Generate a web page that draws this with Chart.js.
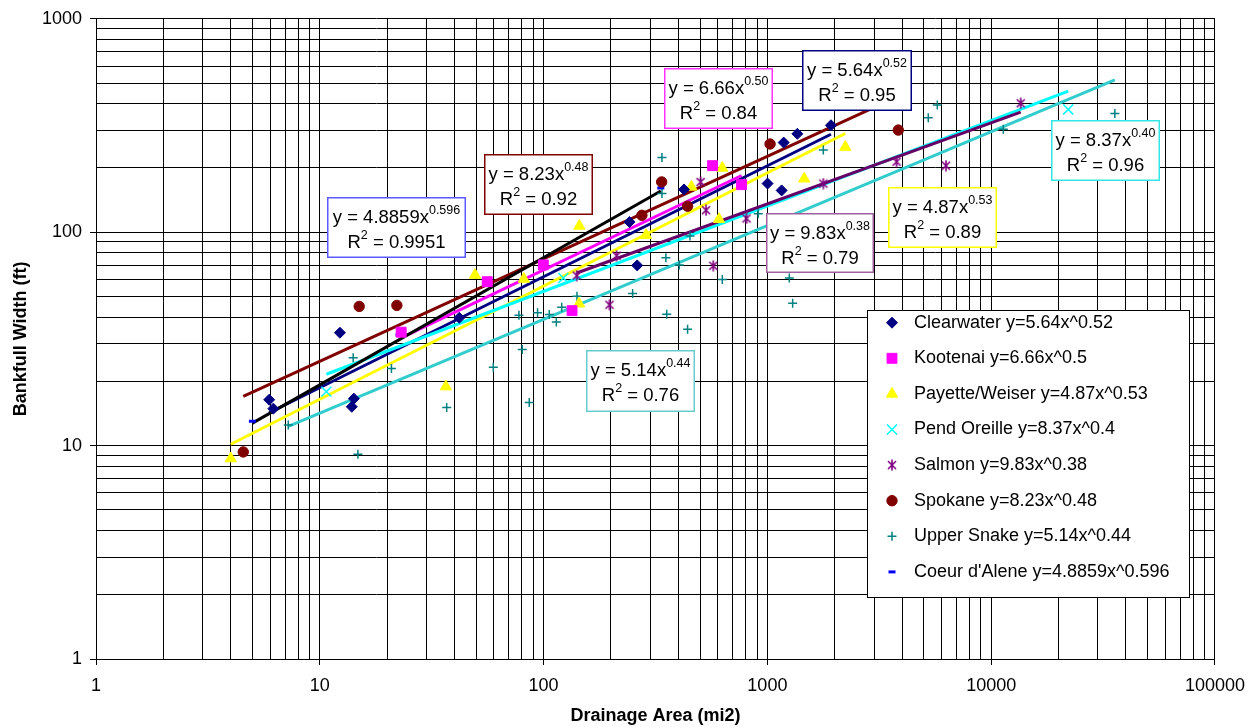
<!DOCTYPE html>
<html>
<head>
<meta charset="utf-8">
<style>
html,body{margin:0;padding:0;background:#fff;}
#wrap{width:1255px;height:728px;position:relative;}
</style>
<script src="https://cdn.jsdelivr.net/npm/chart.js"></script>
</head>
<body>
<div id="wrap"><canvas id="c" width="1255" height="728"></canvas></div>
<script>
// ---------------- DATA ----------------
const seriesNames = ['Clearwater', 'Kootenai', 'Payette/Weiser', 'Pend Oreille', 'Salmon', 'Spokane', 'Upper Snake', "Coeur d'Alene"];
const legendEquations = ['y=5.64x^0.52', 'y=6.66x^0.5', 'y=4.87x^0.53', 'y=8.37x^0.4', 'y=9.83x^0.38', 'y=8.23x^0.48', 'y=5.14x^0.44', 'y=4.8859x^0.596'];

const clearwaterArea  = [5.94, 6.2, 12.3, 13.9, 14.2, 42, 242, 262, 424, 1002, 1158, 1183, 1361, 1924];
const clearwaterWidth = [16.4, 14.9, 33.8, 15.2, 16.6, 39.7, 111.6, 69.9, 158.6, 169, 157, 263, 289, 317];

const kootenaiArea  = [23.1, 56, 99.7, 134, 569, 767];
const kootenaiWidth = [34, 58.6, 70.3, 42.9, 205, 167];

const payetteArea  = [4.0, 36.6, 49.4, 81.6, 144, 144.5, 287, 458, 608, 629, 1461, 2229];
const payetteWidth = [8.7, 18.9, 63, 60.4, 46.2, 107, 96.8, 163, 115, 200, 178, 250.6];

const pendOreilleArea  = [10.7, 122.5, 22100];
const pendOreilleWidth = [17.9, 61, 376];

const salmonArea  = [140.6, 197, 212, 503, 532, 573, 807, 1778, 3780, 6280, 13550];
const salmonWidth = [62.6, 45.7, 77.6, 172, 126.8, 69.6, 116, 169, 214, 205, 402];

const spokaneArea  = [4.55, 15.0, 22.1, 275, 337, 440, 1028, 3846];
const spokaneWidth = [9.34, 44.9, 45.4, 120, 172, 132.4, 259, 301];

const upperSnakeArea  = [7.23, 14.1, 14.8, 20.9, 36.9, 59.6, 77.6, 80.3, 86.3, 94, 106, 114, 120.5, 141, 250, 338, 338, 352, 355, 404, 440, 451, 629, 910, 1253, 1297, 1778, 5236, 5745, 11330, 35700];
const upperSnakeWidth = [12.5, 25.8, 9.1, 23, 15.1, 23.3, 40.8, 28.2, 15.9, 41.9, 41.2, 37.9, 44.5, 50.1, 51.6, 224, 152, 75.9, 41.3, 70.2, 35.1, 96, 60.1, 122, 61, 46.5, 243, 344, 395, 304, 360];

const coeurArea  = [5.0, 22.6, 334];
const coeurWidth = [13.0, 33, 161];

// trend line end points (start, end)
const trendArea  = [[5.94, 1924], [23.1, 767], [4.0, 2229], [10.7, 22100], [140.6, 13550], [4.55, 3846], [7.23, 35700], [5.0, 334]];
const trendWidth = [[14.25, 287.8], [32.0, 184.4], [10.15, 290], [21.6, 458], [64.4, 365.4], [17.0, 433], [12.3, 518], [12.75, 156]];

// equation labels
const eqBase = ['y = 5.64x', 'y = 6.66x', 'y = 4.87x', 'y = 8.37x', 'y = 9.83x', 'y = 8.23x', 'y = 5.14x', 'y = 4.8859x'];
const eqExp  = ['0.52', '0.50', '0.53', '0.40', '0.38', '0.48', '0.44', '0.596'];
const eqR2   = ['0.95', '0.84', '0.89', '0.96', '0.79', '0.92', '0.76', '0.9951'];

// axis ticks
const xMajorTicks = [1, 10, 100, 1000, 10000, 100000];
const yMajorTicks = [1, 10, 100, 1000];
const minorSteps = [1, 2, 3, 4, 5, 6, 7, 8, 9];

// ---------------- STYLE / LAYOUT ----------------
const FONT = '"Liberation Sans", Arial, Helvetica, sans-serif';
const seriesArea  = [clearwaterArea, kootenaiArea, payetteArea, pendOreilleArea, salmonArea, spokaneArea, upperSnakeArea, coeurArea];
const seriesWidth = [clearwaterWidth, kootenaiWidth, payetteWidth, pendOreilleWidth, salmonWidth, spokaneWidth, upperSnakeWidth, coeurWidth];

function starMarker(color) {
  const c = document.createElement('canvas');
  c.width = 12; c.height = 12;
  const g = c.getContext('2d');
  g.strokeStyle = color; g.lineWidth = 1.6; g.lineCap = 'butt';
  g.beginPath();
  g.moveTo(2, 2); g.lineTo(10, 10);
  g.moveTo(10, 2); g.lineTo(2, 10);
  g.moveTo(6, 0.5); g.lineTo(6, 11.5);
  g.stroke();
  return c;
}

const markerStyles = [
  {pointStyle: 'rectRot', radius: 5.5, fill: '#000080', stroke: '#000080', bw: 1},
  {pointStyle: 'rect', radius: 7, fill: '#ff00ff', stroke: '#ff00ff', bw: 1},
  {pointStyle: 'triangle', radius: 6.5, fill: '#ffff00', stroke: '#ffff00', bw: 1},
  {pointStyle: 'crossRot', radius: 7, fill: '#00ffff', stroke: '#00ffff', bw: 1.5},
  {pointStyle: starMarker('#800080'), radius: 6, fill: '#800080', stroke: '#800080', bw: 1},
  {pointStyle: 'circle', radius: 5.2, fill: '#800000', stroke: '#800000', bw: 1},
  {pointStyle: 'cross', radius: 4.5, fill: '#008080', stroke: '#008080', bw: 1.5},
  {pointStyle: 'line', radius: 3.5, fill: '#0000ff', stroke: '#0000ff', bw: 3}
];
const trendColors = ['#000080', '#ff00ff', '#ffff00', '#00ffff', '#660066', '#800000', '#33cccc', '#000000'];
const eqBorderColors = ['#000080', '#ff33ff', '#ffff00', '#33e6e6', '#a060a0', '#800000', '#66cccc', '#5a5aff'];
// pixel rectangles [left, top, right, bottom] of the equation boxes
const eqBoxPos = [
  [802, 50, 912, 111],
  [664, 68, 773, 129],
  [888, 187, 997, 248],
  [1051, 120, 1160, 181],
  [766, 213, 874, 273],
  [484, 154, 593, 215],
  [586, 350, 695, 412],
  [327, 197, 466, 258]
];
const legendBox = {left: 867, top: 310, right: 1190, bottom: 598, markerX: 892, textX: 914, firstY: 322.7, step: 35.6};

// ---------------- HELPERS ----------------
const isMajor = v => { const l = Math.log10(v); return Math.abs(l - Math.round(l)) < 1e-9; };
function logTicks(majors) {
  const t = [];
  for (let i = 0; i < majors.length - 1; i++) for (const m of minorSteps) t.push(majors[i] * m);
  t.push(majors[majors.length - 1]);
  return t;
}

// ---------------- DATASETS ----------------
const datasets = [];
seriesNames.forEach((name, i) => {
  const s = markerStyles[i];
  datasets.push({
    label: name + ' ' + legendEquations[i],
    data: seriesArea[i].map((x, j) => ({x: x, y: seriesWidth[i][j]})),
    showLine: false,
    pointStyle: s.pointStyle,
    pointRadius: s.radius,
    pointHoverRadius: s.radius,
    pointBackgroundColor: s.fill,
    pointBorderColor: s.stroke,
    pointBorderWidth: s.bw,
    order: 0
  });
});
seriesNames.forEach((name, i) => {
  datasets.push({
    label: name + ' trend',
    data: trendArea[i].map((x, j) => ({x: x, y: trendWidth[i][j]})),
    showLine: true,
    borderColor: trendColors[i],
    borderWidth: 3,
    pointRadius: 0,
    pointHoverRadius: 0,
    fill: false,
    order: 8 - i
  });
});

// ---------------- PLUGINS ----------------
const eqPlugin = {
  id: 'eqBoxes',
  afterDatasetsDraw(chart) {
    const ctx = chart.ctx;
    const mainF = '18.5px ' + FONT, supF = '12.5px ' + FONT;
    eqBase.forEach((base, i) => {
      const [l, t, r, b] = eqBoxPos[i];
      ctx.save();
      ctx.fillStyle = '#fff';
      ctx.fillRect(l, t, r - l, b - t);
      ctx.strokeStyle = eqBorderColors[i];
      ctx.lineWidth = 1.5;
      ctx.strokeRect(l + 0.75, t + 0.75, r - l - 1.5, b - t - 1.5);
      ctx.fillStyle = '#000';
      ctx.textAlign = 'left';
      ctx.textBaseline = 'alphabetic';
      const cx = (l + r) / 2;
      // line 1
      ctx.font = mainF; const w1 = ctx.measureText(base).width;
      ctx.font = supF;  const we = ctx.measureText(eqExp[i]).width;
      let x = cx - (w1 + we) / 2;
      const y1 = t + 26, y2 = t + 51;
      ctx.font = mainF; ctx.fillText(base, x, y1);
      ctx.font = supF;  ctx.fillText(eqExp[i], x + w1, y1 - 9);
      // line 2
      const rest = ' = ' + eqR2[i];
      ctx.font = mainF; const wR = ctx.measureText('R').width; const wRest = ctx.measureText(rest).width;
      ctx.font = supF;  const w2 = ctx.measureText('2').width;
      x = cx - (wR + w2 + wRest) / 2;
      ctx.font = mainF; ctx.fillText('R', x, y2);
      ctx.font = supF;  ctx.fillText('2', x + wR, y2 - 9);
      ctx.font = mainF; ctx.fillText(rest, x + wR + w2, y2);
      ctx.restore();
    });
  }
};

const legendPlugin = {
  id: 'boxLegend',
  afterDatasetsDraw(chart) {
    const ctx = chart.ctx, L = legendBox;
    ctx.save();
    ctx.fillStyle = '#fff';
    ctx.fillRect(L.left, L.top, L.right - L.left, L.bottom - L.top);
    ctx.strokeStyle = '#000';
    ctx.lineWidth = 1;
    ctx.strokeRect(L.left + 0.5, L.top + 0.5, L.right - L.left - 1, L.bottom - L.top - 1);
    ctx.font = '18px ' + FONT;
    ctx.textAlign = 'left';
    ctx.textBaseline = 'middle';
    seriesNames.forEach((name, i) => {
      const y = L.firstY + i * L.step;
      const s = markerStyles[i];
      ctx.save();
      ctx.fillStyle = s.fill; ctx.strokeStyle = s.stroke; ctx.lineWidth = s.bw;
      if (Chart.helpers && Chart.helpers.drawPoint) {
        Chart.helpers.drawPoint(ctx, {pointStyle: s.pointStyle, rotation: 0, radius: s.radius, borderWidth: s.bw}, L.markerX, y);
      }
      ctx.restore();
      ctx.fillStyle = '#000';
      ctx.fillText(name + ' ' + legendEquations[i], L.textX, y);
    });
    ctx.restore();
  }
};

// ---------------- CHART ----------------
Chart.defaults.font.family = FONT;
Chart.defaults.font.size = 18;
Chart.defaults.color = '#000';

const tickColorFn = c => (c.tick && isMajor(c.tick.value)) ? '#000' : 'rgba(0,0,0,0)';

new Chart(document.getElementById('c'), {
  type: 'scatter',
  data: {datasets: datasets},
  options: {
    responsive: false,
    animation: false,
    devicePixelRatio: 1,
    layout: {padding: {left: 0, top: 15, right: 40, bottom: 0}},
    plugins: {legend: {display: false}, tooltip: {enabled: false}},
    events: [],
    scales: {
      x: {
        type: 'logarithmic', position: 'bottom', min: 1, max: 100000,
        afterBuildTicks: s => { s.ticks = logTicks(xMajorTicks).map(v => ({value: v})); },
        afterFit: s => { s.height = 69; },
        ticks: {autoSkip: false, maxRotation: 0, minRotation: 0, padding: 10,
                callback: v => isMajor(v) ? String(Math.round(v)) : '', font: {size: 18}},
        grid: {color: '#000', lineWidth: 1, tickLength: 6, tickColor: tickColorFn},
        border: {display: true, color: '#000', width: 1},
        title: {display: true, text: 'Drainage Area (mi2)', font: {size: 18, weight: 'bold'}, padding: {top: 0, bottom: 1}}
      },
      y: {
        type: 'logarithmic', position: 'left', min: 1, max: 1000,
        afterBuildTicks: s => { s.ticks = logTicks(yMajorTicks).map(v => ({value: v})); },
        afterFit: s => { s.width = 96; },
        ticks: {autoSkip: false, padding: 8,
                callback: v => isMajor(v) ? String(Math.round(v)) : '', font: {size: 18}},
        grid: {color: '#000', lineWidth: 1, tickLength: 6, tickColor: tickColorFn},
        border: {display: true, color: '#000', width: 1},
        title: {display: true, text: 'Bankfull Width (ft)', font: {size: 18, weight: 'bold'}, padding: {top: 10, bottom: 0}}
      }
    }
  },
  plugins: [eqPlugin, legendPlugin]
});
</script>
</body>
</html>
